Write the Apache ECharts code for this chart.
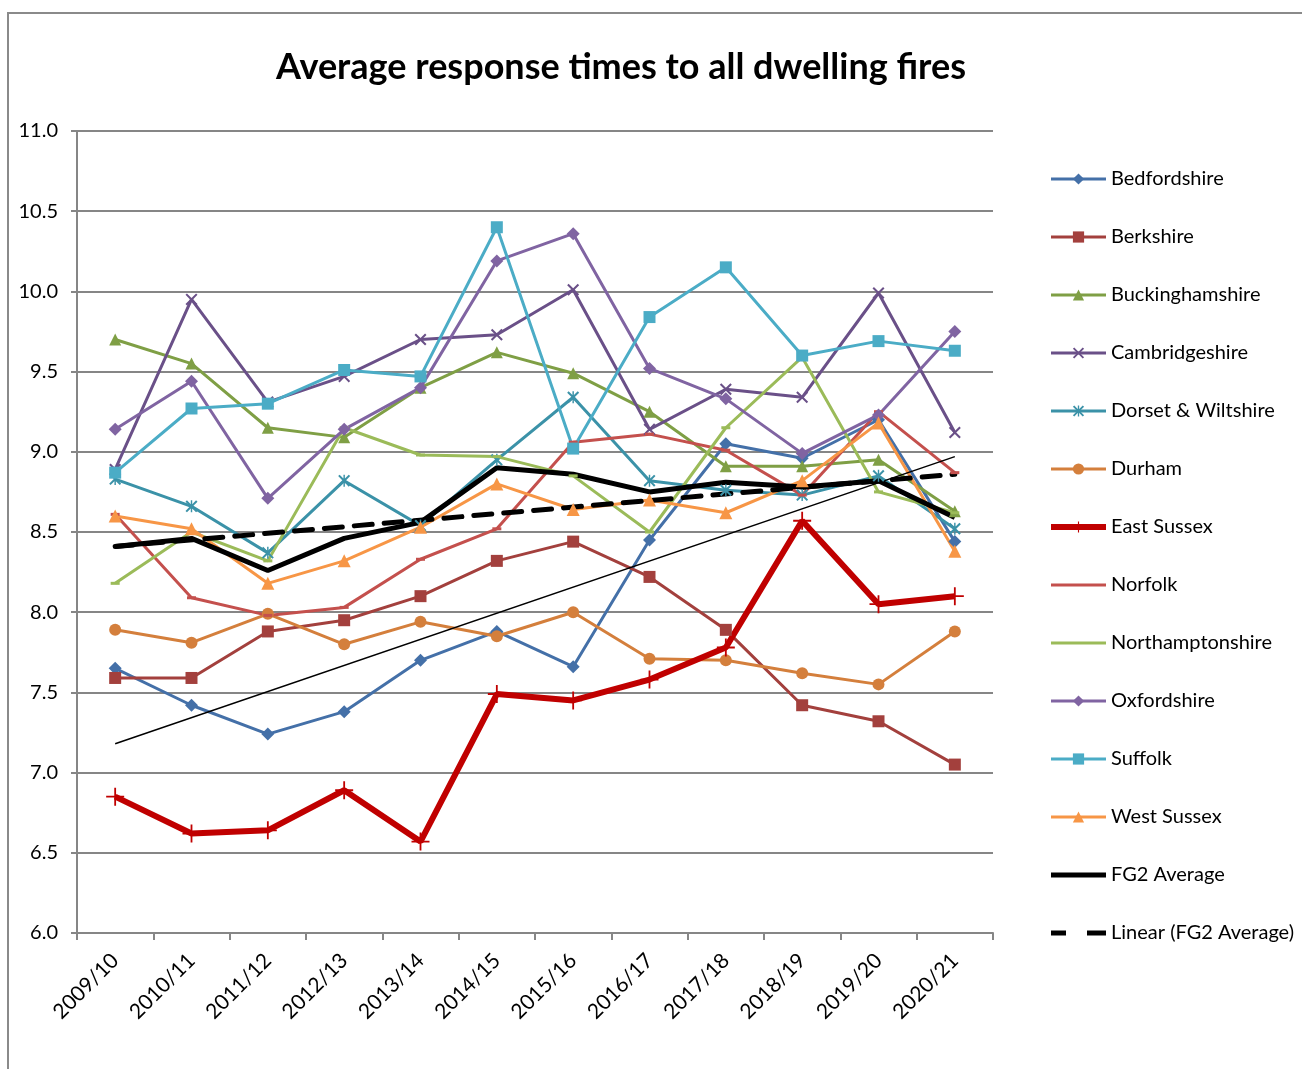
<!DOCTYPE html>
<html>
<head>
<meta charset="utf-8">
<script src="https://cdn.jsdelivr.net/npm/echarts@6/dist/echarts.min.js"></script>
<style>
  html, body { margin: 0; padding: 0; background: #fff; }
  #chart { width: 1302px; height: 1069px; }
</style>
</head>
<body>
<div id="chart"></div>
<script>
var years = ['2009/10', '2010/11', '2011/12', '2012/13', '2013/14', '2014/15', '2015/16', '2016/17', '2017/18', '2018/19', '2019/20', '2020/21'];

var bedfordshire     = [7.65, 7.42, 7.24, 7.38, 7.70, 7.88, 7.66, 8.45, 9.05, 8.96, 9.20, 8.44];
var berkshire        = [7.59, 7.59, 7.88, 7.95, 8.10, 8.32, 8.44, 8.22, 7.89, 7.42, 7.32, 7.05];
var buckinghamshire  = [9.70, 9.55, 9.15, 9.09, 9.40, 9.62, 9.49, 9.25, 8.91, 8.91, 8.95, 8.63];
var cambridgeshire   = [8.89, 9.95, 9.31, 9.47, 9.70, 9.73, 10.01, 9.14, 9.39, 9.34, 9.99, 9.12];
var dorsetWiltshire  = [8.83, 8.66, 8.37, 8.82, 8.54, 8.95, 9.34, 8.82, 8.76, 8.73, 8.85, 8.52];
var durham           = [7.89, 7.81, 7.99, 7.80, 7.94, 7.85, 8.00, 7.71, 7.70, 7.62, 7.55, 7.88];
var eastSussex       = [6.85, 6.62, 6.64, 6.89, 6.57, 7.49, 7.45, 7.58, 7.78, 8.57, 8.05, 8.10];
var norfolk          = [8.61, 8.09, 7.98, 8.03, 8.33, 8.52, 9.06, 9.11, 9.01, 8.73, 9.25, 8.87];
var northamptonshire = [8.18, 8.50, 8.32, 9.15, 8.98, 8.97, 8.85, 8.50, 9.15, 9.59, 8.75, 8.62];
var oxfordshire      = [9.14, 9.44, 8.71, 9.14, 9.40, 10.19, 10.36, 9.52, 9.33, 8.99, 9.23, 9.75];
var suffolk          = [8.87, 9.27, 9.30, 9.51, 9.47, 10.40, 9.02, 9.84, 10.15, 9.60, 9.69, 9.63];
var westSussex       = [8.60, 8.52, 8.18, 8.32, 8.53, 8.80, 8.64, 8.70, 8.62, 8.82, 9.18, 8.38];
var fg2Average       = [8.41, 8.46, 8.26, 8.46, 8.56, 8.90, 8.86, 8.75, 8.81, 8.78, 8.82, 8.59];
// trend lines: only the end points, joined straight
var fg2Linear        = [8.41, null, null, null, null, null, null, null, null, null, null, 8.86];
var eastSussexTrend  = [7.18, null, null, null, null, null, null, null, null, null, null, 8.97];

var font = 'Lato, "Liberation Sans", sans-serif';

var crossPath = 'path://M0,1.2 L1.2,0 L5,3.8 L8.8,0 L10,1.2 L6.2,5 L10,8.8 L8.8,10 L5,6.2 L1.2,10 L0,8.8 L3.8,5 Z';
var starPath = 'path://M0,1.2 L1.2,0 L5,3.8 L8.8,0 L10,1.2 L6.2,5 L10,8.8 L8.8,10 L5,6.2 L1.2,10 L0,8.8 L3.8,5 Z M4.4,0 L5.6,0 L5.6,10 L4.4,10 Z';
var plusPath = 'path://M4.5,0 H5.5 V4.5 H10 V5.5 H5.5 V10 H4.5 V5.5 H0 V4.5 H4.5 Z';

// legend icons for entries that have no marker of their own
var thinIcon = 'path://M0,0 H55 V3 H0 Z';
var thickIcon = 'path://M0,0 H55 V5 H0 Z';
var dashIcon = 'path://M0,0 H15 V5 H0 Z M36,0 H55 V5 H36 Z';

function line(name, data, color, symbol, size, width) {
    return {
        name: name,
        type: 'line',
        data: data,
        symbol: symbol,
        symbolSize: size,
        showSymbol: symbol !== 'none',
        lineStyle: { color: color, width: width || 3 },
        itemStyle: { color: color },
        emphasis: { disabled: true },
        animation: false
    };
}

var series = [
    line('Bedfordshire', bedfordshire, '#4470a8', 'diamond', 13),
    line('Berkshire', berkshire, '#a3403d', 'rect', 12),
    line('Buckinghamshire', buckinghamshire, '#7f9f45', 'triangle', 12),
    line('Cambridgeshire', cambridgeshire, '#6a5088', crossPath, 12),
    line('Dorset & Wiltshire', dorsetWiltshire, '#3b92a8', starPath, 12),
    line('Durham', durham, '#d47f3c', 'circle', 12),
    line('East Sussex', eastSussex, '#c00000', plusPath, 18, 6),
    line('Norfolk', norfolk, '#c4504d', 'rect', [9, 3]),
    line('Northamptonshire', northamptonshire, '#9bbb59', 'rect', [9, 3]),
    line('Oxfordshire', oxfordshire, '#8064a2', 'diamond', 13),
    line('Suffolk', suffolk, '#4bacc6', 'rect', 12),
    line('West Sussex', westSussex, '#f79646', 'triangle', 13),
    line('FG2 Average', fg2Average, '#000000', 'none', 0, 5),
    {
        name: 'Linear (FG2 Average)',
        type: 'line',
        data: fg2Linear,
        connectNulls: true,
        symbol: 'none',
        lineStyle: { color: '#000', width: 5, type: [18, 12], cap: 'round' },
        itemStyle: { color: '#000' },
        emphasis: { disabled: true },
        animation: false
    },
    {
        name: 'trend',
        type: 'line',
        data: eastSussexTrend,
        connectNulls: true,
        symbol: 'none',
        lineStyle: { color: '#000', width: 1.5 },
        emphasis: { disabled: true },
        animation: false
    }
];

var legendData = series.filter(function (s) { return s.name !== 'trend'; }).map(function (s) {
    var item = { name: s.name, lineStyle: { width: s.lineStyle.width } };
    if (s.name === 'Norfolk' || s.name === 'Northamptonshire') item.icon = thinIcon;
    if (s.name === 'FG2 Average') item.icon = thickIcon;
    if (s.name === 'Linear (FG2 Average)') item.icon = dashIcon;
    return item;
});

var chart = echarts.init(document.getElementById('chart'));
chart.setOption({
    backgroundColor: '#fff',
    animation: false,
    title: {
        text: 'Average response times to all dwelling fires',
        left: 616,
        textAlign: 'center',
        top: 44,
        textStyle: { fontFamily: font, fontWeight: 'bold', fontSize: 36, color: '#000' }
    },
    graphic: [{
        type: 'rect',
        shape: { x: 8, y: 13, width: 1400, height: 1100 },
        style: { fill: null, stroke: '#8a8a8a', lineWidth: 2 },
        silent: true
    }],
    legend: {
        orient: 'vertical',
        left: 1048,
        top: 169,
        padding: 0,
        data: legendData,
        itemWidth: 55,
        itemHeight: 14,
        itemGap: 38,
        symbolKeepAspect: true,
        textStyle: { fontFamily: font, fontSize: 20, color: '#000', lineHeight: 20 },
        selectedMode: false
    },
    grid: { left: 77, right: 309, top: 131, bottom: 136, containLabel: false },
    xAxis: {
        type: 'category',
        data: years,
        boundaryGap: true,
        axisLine: { lineStyle: { color: '#868686', width: 2 } },
        axisTick: { show: true, length: 7, lineStyle: { color: '#868686', width: 2 } },
        axisLabel: { rotate: 45, margin: 24, fontFamily: font, fontSize: 21, color: '#000' }
    },
    yAxis: {
        type: 'value',
        min: 6,
        max: 11,
        interval: 0.5,
        axisLine: { show: true, lineStyle: { color: '#868686', width: 2 } },
        axisTick: { show: true, length: 6, lineStyle: { color: '#868686', width: 2 } },
        axisLabel: {
            margin: 19, fontFamily: font, fontSize: 20, color: '#000',
            formatter: function (v) { return v.toFixed(1); }
        },
        splitLine: { lineStyle: { color: '#868686', width: 2 } }
    },
    series: series
});
</script>
</body>
</html>
